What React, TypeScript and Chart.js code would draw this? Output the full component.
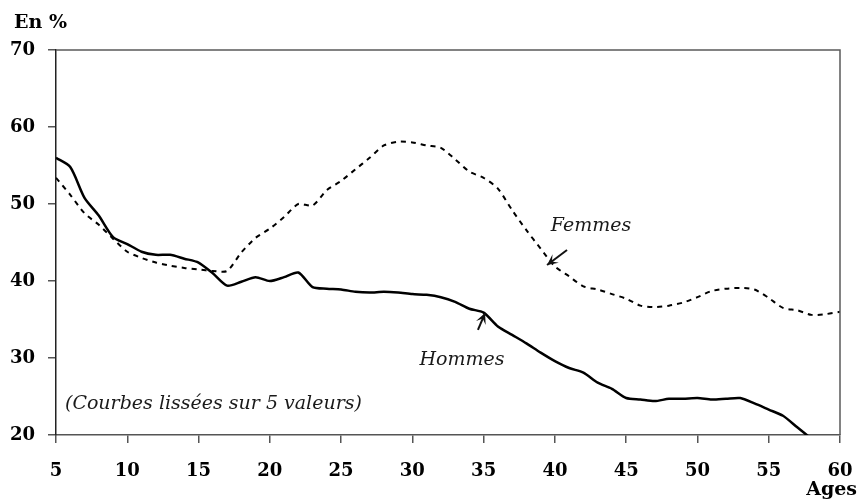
import React, { useEffect, useRef } from "react";
import { Chart, registerables } from "chart.js";

Chart.register(...registerables);

const agesHommes = [5, 6, 7, 8, 9, 10, 11, 12, 13, 14, 15, 16, 17, 18, 19, 20, 21, 22, 23, 24, 25, 26, 27, 28, 29, 30, 31, 32, 33, 34, 35, 36, 37, 38, 39, 40, 41, 42, 43, 44, 45, 46, 47, 48, 49, 50, 51, 52, 53, 54, 55, 56, 57, 58];
const valuesHommes = [56.0, 54.8, 50.8, 48.5, 45.7, 44.8, 43.8, 43.4, 43.4, 42.9, 42.4, 41.0, 39.4, 39.9, 40.5, 40.0, 40.5, 41.1, 39.2, 39.0, 38.9, 38.6, 38.5, 38.6, 38.5, 38.3, 38.2, 37.9, 37.3, 36.4, 35.9, 34.1, 33.0, 31.9, 30.7, 29.6, 28.7, 28.1, 26.8, 26.0, 24.8, 24.6, 24.4, 24.7, 24.7, 24.8, 24.6, 24.7, 24.8, 24.1, 23.3, 22.5, 21.0, 19.5];

const agesFemmes = [5, 6, 7, 8, 9, 10, 11, 12, 13, 14, 15, 16, 17, 18, 19, 20, 21, 22, 23, 24, 25, 26, 27, 28, 29, 30, 31, 32, 33, 34, 35, 36, 37, 38, 39, 40, 41, 42, 43, 44, 45, 46, 47, 48, 49, 50, 51, 52, 53, 54, 55, 56, 57, 58, 59, 60];
const valuesFemmes = [53.4, 51.2, 48.8, 47.3, 45.5, 43.8, 43.0, 42.4, 42.0, 41.7, 41.5, 41.3, 41.3, 43.7, 45.6, 46.8, 48.3, 50.0, 49.8, 51.8, 53.0, 54.5, 56.0, 57.6, 58.1, 58.0, 57.6, 57.3, 55.8, 54.2, 53.4, 52.0, 49.2, 46.6, 44.2, 41.9, 40.6, 39.3, 38.9, 38.3, 37.7, 36.8, 36.6, 36.8, 37.2, 37.9, 38.7, 39.0, 39.1, 38.9, 37.8, 36.5, 36.2, 35.6, 35.7, 36.0];

const xTicks = [5, 10, 15, 20, 25, 30, 35, 40, 45, 50, 55, 60];
const yTicks = [20, 30, 40, 50, 60, 70];

const labelFemmes = { text: "Femmes", x: 42.53, y: 47.14 };
const arrowFemmes = { fromX: 40.85, fromY: 44.03, toX: 39.45, toY: 42.08 };
const labelHommes = { text: "Hommes", x: 33.48, y: 29.74 };
const arrowHommes = { fromX: 34.6, fromY: 33.64, toX: 35.1, toY: 35.84 };
const noteText = { text: "(Courbes lissées sur 5 valeurs)", x: 5.63, y: 24.03 };

const tickFont = { family: "'DejaVu Serif'", size: 18, weight: "bold" as const };

const annotations = {
  id: "annotations",
  afterDatasetsDraw(chart: any) {
    const { ctx, chartArea, scales } = chart;
    const xs = scales.x;
    const ys = scales.y;
    ctx.save();
    ctx.strokeStyle = "#5a5a5a";
    ctx.lineWidth = 1.5;
    ctx.beginPath();
    ctx.moveTo(chartArea.left, chartArea.top);
    ctx.lineTo(chartArea.right, chartArea.top);
    ctx.lineTo(chartArea.right, chartArea.bottom);
    ctx.stroke();

    ctx.fillStyle = "#1a1a1a";
    ctx.font = "italic 19px 'DejaVu Serif'";
    ctx.textBaseline = "middle";
    ctx.textAlign = "center";
    ctx.fillText(labelFemmes.text, xs.getPixelForValue(labelFemmes.x), ys.getPixelForValue(labelFemmes.y));
    ctx.fillText(labelHommes.text, xs.getPixelForValue(labelHommes.x), ys.getPixelForValue(labelHommes.y));
    ctx.textAlign = "left";
    ctx.fillText(noteText.text, xs.getPixelForValue(noteText.x), ys.getPixelForValue(noteText.y));

    const drawArrow = (a: any) => {
      const x1 = xs.getPixelForValue(a.fromX);
      const y1 = ys.getPixelForValue(a.fromY);
      const x2 = xs.getPixelForValue(a.toX);
      const y2 = ys.getPixelForValue(a.toY);
      const ang = Math.atan2(y2 - y1, x2 - x1);
      ctx.strokeStyle = "#111";
      ctx.lineWidth = 2;
      ctx.beginPath();
      ctx.moveTo(x1, y1);
      ctx.lineTo(x2, y2);
      ctx.stroke();
      const len = 12;
      ctx.beginPath();
      ctx.moveTo(x2 - len * Math.cos(ang - 0.45), y2 - len * Math.sin(ang - 0.45));
      ctx.lineTo(x2, y2);
      ctx.lineTo(x2 - len * Math.cos(ang + 0.45), y2 - len * Math.sin(ang + 0.45));
      ctx.lineTo(x2 - 6 * Math.cos(ang), y2 - 6 * Math.sin(ang));
      ctx.closePath();
      ctx.fillStyle = "#111";
      ctx.fill();
    };
    drawArrow(arrowFemmes);
    drawArrow(arrowHommes);

    ctx.fillStyle = "#000";
    ctx.font = "bold 19px 'DejaVu Serif'";
    ctx.textAlign = "left";
    ctx.textBaseline = "middle";
    ctx.fillText("En %", 14, 23);
    ctx.textAlign = "right";
    ctx.fillText("Ages", 857, 490);
    ctx.restore();
  },
};

export default function App() {
  const ref = useRef<HTMLCanvasElement | null>(null);
  useEffect(() => {
    if (!ref.current) return;
    const chart = new Chart(ref.current, {
      type: "line",
      data: {
        datasets: [
          {
            label: "Hommes",
            data: agesHommes.map((a, i) => ({ x: a, y: valuesHommes[i] })),
            borderColor: "#000",
            borderWidth: 2.5,
            pointRadius: 0,
            tension: 0.25,
            fill: false,
          },
          {
            label: "Femmes",
            data: agesFemmes.map((a, i) => ({ x: a, y: valuesFemmes[i] })),
            borderColor: "#000",
            borderWidth: 2,
            borderDash: [5, 5],
            pointRadius: 0,
            tension: 0.25,
            fill: false,
          },
        ],
      },
      options: {
        responsive: false,
        animation: false,
        layout: { padding: { top: 50, right: 19, left: 0, bottom: 0 } },
        plugins: { legend: { display: false }, tooltip: { enabled: false } },
        scales: {
          x: {
            type: "linear",
            min: 5,
            max: 60,
            afterFit: (s: any) => { s.height = 66; s.paddingLeft = 0; s.paddingRight = 0; },
            afterBuildTicks: (s: any) => { s.ticks = xTicks.map((v) => ({ value: v })); },
            grid: { display: true, drawOnChartArea: false, drawTicks: true, tickLength: 8, color: "#555", lineWidth: 1.5 },
            border: { display: true, color: "#555", width: 1.5 },
            ticks: { color: "#000", font: tickFont, padding: 18, maxRotation: 0, autoSkip: false },
          },
          y: {
            min: 20,
            max: 70,
            afterFit: (s: any) => { s.width = 56; s.paddingTop = 0; s.paddingBottom = 0; },
            afterBuildTicks: (s: any) => { s.ticks = yTicks.map((v) => ({ value: v })); },
            grid: { display: true, drawOnChartArea: false, drawTicks: true, tickLength: 8, color: "#555", lineWidth: 1.5 },
            border: { display: true, color: "#222", width: 1.5 },
            ticks: { color: "#000", font: tickFont, padding: 13 },
          },
        },
      },
      plugins: [annotations],
    });
    return () => chart.destroy();
  }, []);
  return (
    <canvas
      ref={ref}
      width={859}
      height={501}
      style={{ position: "fixed", left: 0, top: 0, display: "block", background: "#fff" }}
    />
  );
}
